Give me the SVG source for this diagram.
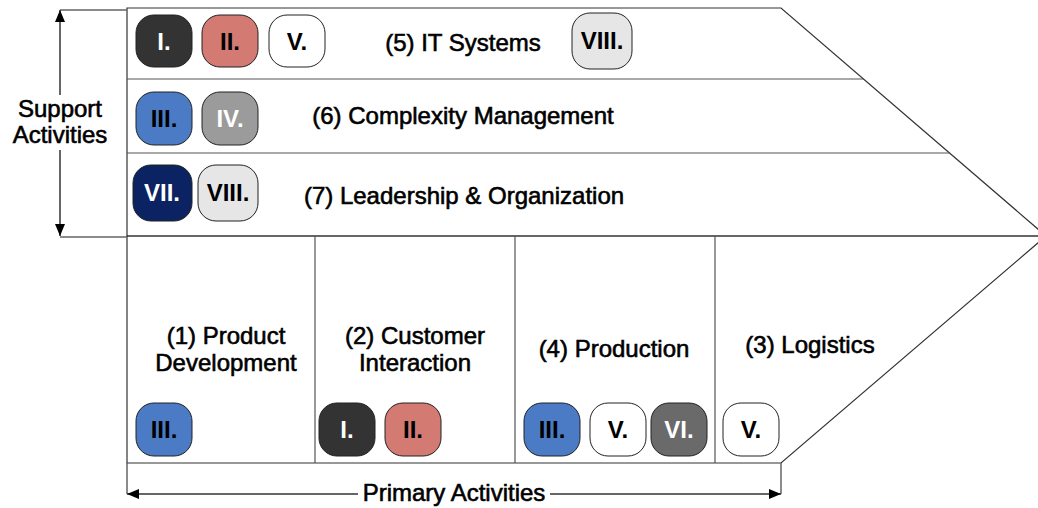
<svg xmlns="http://www.w3.org/2000/svg" width="1038" height="508" viewBox="0 0 1038 508">
<defs>
<style>
.frame{fill:none;stroke:#333;stroke-width:1.2}
.div{fill:none;stroke:#555;stroke-width:1.2}
.lbl{font-family:"Liberation Sans",Arial,sans-serif;font-size:24px;fill:#000;text-anchor:middle;stroke:#000;stroke-width:0.6}
.bt{font-family:"Liberation Sans",Arial,sans-serif;font-size:24px;font-weight:bold;text-anchor:middle}
.b{stroke:#222;stroke-width:1}
.dim{fill:none;stroke:#333;stroke-width:1.5}
.tick{fill:none;stroke:#666;stroke-width:1.5}
</style>
<marker id="ah" viewBox="0 0 12 10" refX="12" refY="5" markerWidth="12" markerHeight="10" markerUnits="userSpaceOnUse" orient="auto-start-reverse">
<path d="M0,0 L12,5 L0,10 Z" fill="#000"/>
</marker>
</defs>
<rect width="1038" height="508" fill="#fff"/>

<g id="support-frame">
<path class="frame" d="M127,8 H781 L1046,236 H127 Z"/>
<path class="div" d="M127,79 H864 M127,153 H949"/>
</g>
<g id="primary-frame">
<path class="frame" d="M127,236 H1046 L781,463 H127 Z"/>
<path class="div" d="M315,236 V463 M515,236 V463 M715,236 V463"/>
</g>

<g id="connectors">
<path class="tick" d="M60,10 H127 M60,237 H127"/>
<path class="dim" d="M60,95 V10" marker-end="url(#ah)"/>
<path class="dim" d="M60,150 V236" marker-end="url(#ah)"/>
<path class="tick" d="M127,463 V494 M781,463 V494"/>
<path class="dim" d="M358,494 H127" marker-end="url(#ah)"/>
<path class="dim" d="M550,494 H781" marker-end="url(#ah)"/>
</g>

<g id="support-label">
<text class="lbl" x="60" y="117">Support</text>
<text class="lbl" x="60" y="143">Activities</text>
</g>
<g id="primary-label">
<text class="lbl" x="454" y="501">Primary Activities</text>
</g>

<g id="it-systems">
<text class="lbl" x="463" y="51">(5) IT Systems</text>
</g>
<g id="complexity-management">
<text class="lbl" x="463" y="124">(6) Complexity Management</text>
</g>
<g id="leadership">
<text class="lbl" x="464" y="204">(7) Leadership &amp; Organization</text>
</g>
<g id="product-development">
<text class="lbl" x="226" y="344">(1) Product</text>
<text class="lbl" x="226" y="371">Development</text>
</g>
<g id="customer-interaction">
<text class="lbl" x="415" y="344">(2) Customer</text>
<text class="lbl" x="415" y="371">Interaction</text>
</g>
<g id="production">
<text class="lbl" x="614" y="357">(4) Production</text>
</g>
<g id="logistics">
<text class="lbl" x="810" y="353">(3) Logistics</text>
</g>

<g id="badges">
<g id="b-r1-I"><rect class="b" x="136" y="15" width="56" height="52" rx="18" fill="#333"/><text class="bt" x="164" y="50" fill="#fff">I.</text></g>
<g id="b-r1-II"><rect class="b" x="202" y="15" width="56" height="52" rx="18" fill="#d37a72"/><text class="bt" x="230" y="50" fill="#000">II.</text></g>
<g id="b-r1-V"><rect class="b" x="269" y="15" width="56" height="52" rx="18" fill="#fff"/><text class="bt" x="297" y="50" fill="#000">V.</text></g>
<g id="b-r1-VIII"><rect class="b" x="572" y="13" width="60" height="56" rx="18" fill="#e6e6e6"/><text class="bt" x="602" y="49" fill="#000">VIII.</text></g>

<g id="b-r2-III"><rect class="b" x="136" y="92" width="56" height="53" rx="18" fill="#4a7bc4"/><text class="bt" x="164" y="127" fill="#000">III.</text></g>
<g id="b-r2-IV"><rect class="b" x="202" y="92" width="56" height="53" rx="18" fill="#9b9b9b"/><text class="bt" x="230" y="127" fill="#fff">IV.</text></g>

<g id="b-r3-VII"><rect class="b" x="133" y="165" width="59" height="56" rx="18" fill="#0b2362"/><text class="bt" x="162" y="201" fill="#fff">VII.</text></g>
<g id="b-r3-VIII"><rect class="b" x="198" y="165" width="60" height="56" rx="18" fill="#e6e6e6"/><text class="bt" x="228" y="201" fill="#000">VIII.</text></g>

<g id="b-p1-III"><rect class="b" x="136" y="403" width="56" height="53" rx="18" fill="#4a7bc4"/><text class="bt" x="164" y="438" fill="#000">III.</text></g>
<g id="b-p2-I"><rect class="b" x="319" y="403" width="56" height="53" rx="18" fill="#333"/><text class="bt" x="347" y="438" fill="#fff">I.</text></g>
<g id="b-p2-II"><rect class="b" x="385" y="403" width="56" height="53" rx="18" fill="#d37a72"/><text class="bt" x="413" y="438" fill="#000">II.</text></g>
<g id="b-p3-III"><rect class="b" x="524" y="403" width="56" height="53" rx="18" fill="#4a7bc4"/><text class="bt" x="552" y="438" fill="#000">III.</text></g>
<g id="b-p3-V"><rect class="b" x="590" y="403" width="56" height="53" rx="18" fill="#fff"/><text class="bt" x="618" y="438" fill="#000">V.</text></g>
<g id="b-p3-VI"><rect class="b" x="651" y="403" width="56" height="53" rx="18" fill="#6a6a6a"/><text class="bt" x="679" y="438" fill="#fff">VI.</text></g>
<g id="b-p4-V"><rect class="b" x="723" y="403" width="56" height="53" rx="18" fill="#fff"/><text class="bt" x="751" y="438" fill="#000">V.</text></g>
</g>
</svg>
